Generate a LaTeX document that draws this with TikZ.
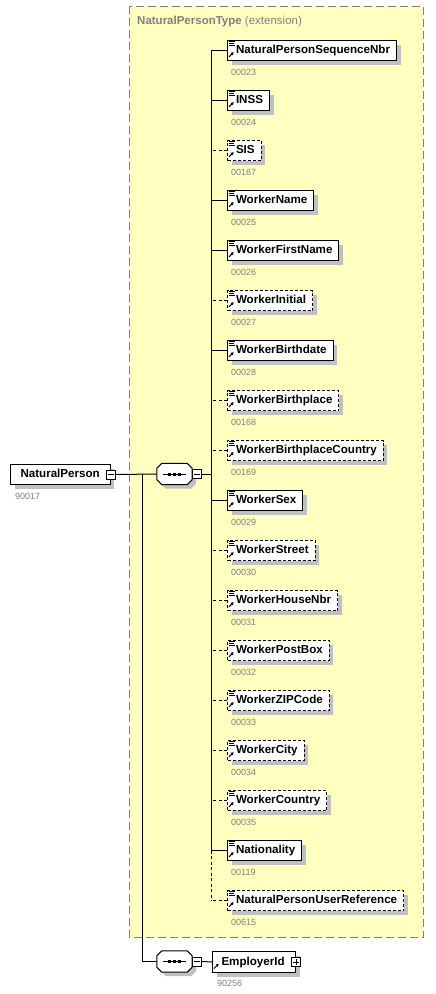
\documentclass[tikz,border=0pt]{standalone}
\usepackage{fontspec}
\setmainfont{Liberation Sans}
\usetikzlibrary{calc,shadows,arrows.meta}
\definecolor{ybg}{RGB}{255,255,192}
\definecolor{lblgray}{RGB}{128,128,128}
\definecolor{shgray}{RGB}{192,192,192}
\newcommand\octpath[1]{($(#1.north west)+(5,0)$) -- ($(#1.north east)+(-5,0)$) -- ($(#1.north east)+(0,5)$) -- ($(#1.south east)+(0,-5)$) -- ($(#1.south east)+(-5,0)$) -- ($(#1.south west)+(5,0)$) -- ($(#1.south west)+(0,-5)$) -- ($(#1.north west)+(0,5)$) -- cycle}
\begin{document}
\begin{tikzpicture}[x=1pt,y=-1pt,
  shd/.style={general shadow={fill=shgray, shadow xshift=4pt, shadow yshift=-4pt}},
  elembase/.style={shd, fill=white, line width=1pt, minimum height=20pt, inner ysep=0pt, inner xsep=0pt, anchor=north west, text height=8.6pt, text depth=2.4pt, font=\fontsize{11.6}{13}\selectfont\bfseries},
  reqbox/.style={elembase, draw=black},
  optbox/.style={elembase, draw=black, dash pattern=on 3pt off 2pt},
  reqline/.style={line width=1pt},
  optline/.style={line width=1pt, dash pattern=on 3pt off 2.5pt},
  num/.style={anchor=base west, text=lblgray, font=\fontsize{9}{10}\selectfont, inner sep=0pt},
  btn/.style={draw, fill=white, line width=0.8pt, minimum size=9pt, inner sep=0pt},
  icon/.style={line width=0.9pt},
  iconarrow/.style={line width=1pt, -{Triangle[length=2.6pt,width=3pt]}},
  compbox/.style={minimum width=35pt, minimum height=21pt, inner sep=0pt},
]
\useasboundingbox (0,0) rectangle (436,994);
% extension region
\draw[fill=ybg, draw=lblgray, line width=1pt, dash pattern=on 8pt off 4pt] (129,6) rectangle (423,937.5);
\node[anchor=base west, inner sep=0pt, text=lblgray, font=\fontsize{11.5}{13}\selectfont] (title) at (137,24) {\textbf{NaturalPersonType} (extension)};

% root element
\node[reqbox] (np) at (10,464) {\hspace*{10pt}NaturalPerson\hspace*{10.5pt}};
\node[num] (npn) at (15,499.5) {90017};
\node[btn] (npb) at (np.east) {};
\draw[line width=0.8pt] ([xshift=2pt]npb.west) -- ([xshift=-2pt]npb.east);

% first sequence compositor
\node[compbox] (s1) at (174.5,474) {};
\begin{scope}[transform canvas={xshift=4pt,yshift=-4pt}]
\fill[shgray] \octpath{s1};
\end{scope}
\draw[fill=white, line width=1pt] \octpath{s1};
\draw[line width=1pt] ($(s1.center)+(-12,0)$) -- ($(s1.center)+(11,0)$);
\foreach \dx in {-5,0,5} \fill ($(s1.center)+(\dx-1.5,-1.5)$) rectangle ++(3,3);
\node[btn] (s1b) at (197,474) {};
\draw[line width=0.8pt] ([xshift=2pt]s1b.west) -- ([xshift=-2pt]s1b.east);

\coordinate (bus) at (211,474);
\coordinate (br) at (142,474);
\draw[reqline] (npb.east) -- (s1.west);
\draw[reqline] (s1b.east) -- (bus);

% child elements
\foreach \i/\nm/\nr/\st/\ln in {
 0/NaturalPersonSequenceNbr/00023/reqbox/reqline,
 1/INSS/00024/reqbox/reqline,
 2/SIS/00167/optbox/optline,
 3/WorkerName/00025/reqbox/reqline,
 4/WorkerFirstName/00026/reqbox/reqline,
 5/WorkerInitial/00027/optbox/optline,
 6/WorkerBirthdate/00028/reqbox/reqline,
 7/WorkerBirthplace/00168/optbox/optline,
 8/WorkerBirthplaceCountry/00169/optbox/optline,
 9/WorkerSex/00029/reqbox/reqline,
 10/WorkerStreet/00030/optbox/optline,
 11/WorkerHouseNbr/00031/optbox/optline,
 12/WorkerPostBox/00032/optbox/optline,
 13/WorkerZIPCode/00033/optbox/optline,
 14/WorkerCity/00034/optbox/optline,
 15/WorkerCountry/00035/optbox/optline,
 16/Nationality/00119/reqbox/reqline,
 17/NaturalPersonUserReference/00615/optbox/optline}
{
  \node[\st] (e\i) at (227,{40+50*\i}) {\hspace*{8.5pt}\nm\hspace*{6.5pt}};
  \node[num] (n\i) at ($(e\i.north west)+(4,35)$) {\nr};
  \draw[icon] ($(e\i.north west)+(2,1.5)$) -- ++(5.5,0);
  \draw[icon] ($(e\i.north west)+(2,3.5)$) -- ++(4.5,0);
  \draw[icon] ($(e\i.north west)+(2,5.5)$) -- ++(5.5,0);
  \draw[iconarrow] ($(e\i.north west)+(2,16.8)$) -- ++(4.6,-4.6);
  \draw[\ln] (e\i.west) -- (e\i.west -| bus);
}
\draw[reqline] (e0.west -| bus) -- (e16.west -| bus);
\draw[optline] (e16.west -| bus) -- (e17.west -| bus);

% second sequence compositor
\node[compbox] (s2) at (174.5,961.5) {};
\begin{scope}[transform canvas={xshift=4pt,yshift=-4pt}]
\fill[shgray] \octpath{s2};
\end{scope}
\draw[fill=white, line width=1pt] \octpath{s2};
\draw[line width=1pt] ($(s2.center)+(-12,0)$) -- ($(s2.center)+(11,0)$);
\foreach \dx in {-5,0,5} \fill ($(s2.center)+(\dx-1.5,-1.5)$) rectangle ++(3,3);
\node[btn] (s2b) at (197,961.5) {};
\draw[line width=0.8pt] ([xshift=2pt]s2b.west) -- ([xshift=-2pt]s2b.east);
\draw[reqline] (br) |- (s2.west);

% EmployerId
\node[reqbox, minimum height=21pt] (emp) at (212,951) {\hspace*{9pt}EmployerId\hspace*{11pt}};
\draw[iconarrow] ($(emp.north west)+(2,17.5)$) -- ++(4.6,-4.6);
\node[num] (empn) at (217,986.5) {90256};
\node[btn] (empb) at (emp.east) {};
\draw[line width=0.8pt] ([xshift=2pt]empb.west) -- ([xshift=-2pt]empb.east);
\draw[line width=0.8pt] ([yshift=2pt]empb.south) -- ([yshift=-2pt]empb.north);
\draw[reqline] (s2b.east) -- (emp.west);
\end{tikzpicture}
\end{document}
